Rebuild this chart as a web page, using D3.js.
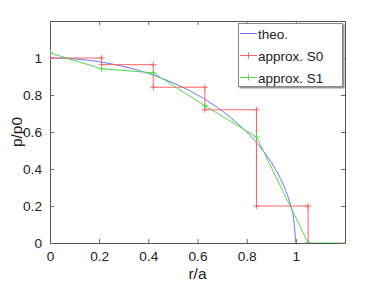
<!DOCTYPE html>
<html>
<head>
<meta charset="utf-8">
<script src="https://cdn.jsdelivr.net/npm/d3@7"></script>
<style>
  body { margin: 0; background: #fff; }
  text { font-family: "Liberation Sans", Arial, sans-serif; fill: #222; }
</style>
</head>
<body>
<script>
"use strict"

// theoretical curve
const theoR = [0, 0.1, 0.2, 0.3, 0.4, 0.5, 0.6, 0.7, 0.75, 0.8, 0.85, 0.9, 0.93, 0.96, 0.98, 0.99, 1];
const theoP = [1, 0.995, 0.98, 0.954, 0.917, 0.866, 0.8, 0.714, 0.661, 0.6, 0.527, 0.436, 0.368, 0.28, 0.199, 0.141, 0];

// step approximation S0
const s0R = [0, 0.21, 0.21, 0.42, 0.42, 0.63, 0.63, 0.84, 0.84, 1.05, 1.05];
const s0P = [1, 1, 0.964, 0.964, 0.842, 0.842, 0.72, 0.72, 0.2, 0.2, 0];

// linear approximation S1
const s1R = [0, 0.21, 0.42, 0.63, 0.84, 1.05, 1.3];
const s1P = [1.027, 0.942, 0.92, 0.742, 0.573, 0, 0];

const xTicks = [0, 0.2, 0.4, 0.6, 0.8, 1];
const yTicks = [0, 0.2, 0.4, 0.6, 0.8, 1];
const legendNames = ['theo.', 'approx. S0', 'approx. S1'];

const w = 382, h = 286;
const margin = {top: 21, right: 37, bottom: 43, left: 50};
const colors = ['#6f6fff', '#ff6464', '#4fdc4f'];
const tickFs = '13.7px';
const labelFs = '15.5px';

const svg = d3.select('body').append('svg')
  .attr('width', w)
  .attr('height', h);

const xScale = d3.scaleLinear().domain([0, 1.2]).range([margin.left, w - margin.right]);
const yScale = d3.scaleLinear().domain([0, 1.2]).range([h - margin.bottom, margin.top]);

svg.append('clipPath').attr('id', 'clip')
  .append('rect')
  .attr('x', margin.left).attr('y', margin.top)
  .attr('width', w - margin.left - margin.right)
  .attr('height', h - margin.top - margin.bottom);

// axes with inward ticks on all sides
const tickLen = 4;
const axisB = svg.append('g').attr('transform', 'translate(0,' + (h - margin.bottom) + ')')
  .call(d3.axisBottom(xScale).tickValues(xTicks).tickSizeInner(-tickLen).tickSizeOuter(0).tickPadding(8).tickFormat(d3.format('')));
const axisL = svg.append('g').attr('transform', 'translate(' + margin.left + ',0)')
  .call(d3.axisLeft(yScale).tickValues(yTicks).tickSizeInner(-tickLen).tickSizeOuter(0).tickPadding(8).tickFormat(d3.format('')));
const axisT = svg.append('g').attr('transform', 'translate(0,' + margin.top + ')')
  .call(d3.axisTop(xScale).tickValues(xTicks).tickSizeInner(-tickLen).tickSizeOuter(0).tickFormat(''));
const axisR = svg.append('g').attr('transform', 'translate(' + (w - margin.right) + ',0)')
  .call(d3.axisRight(yScale).tickValues(yTicks).tickSizeInner(-tickLen).tickSizeOuter(0).tickFormat(''));

[axisB, axisL, axisT, axisR].forEach(g => {
  g.attr('font-size', null).attr('font-family', null);
  g.select('.domain').attr('stroke', '#555');
  g.selectAll('.tick line').attr('stroke', '#666');
  g.selectAll('.tick text').style('font-size', tickFs).attr('fill', '#222');
});

svg.append('text')
  .attr('x', (margin.left + w - margin.right) / 2)
  .attr('y', 279)
  .attr('text-anchor', 'middle')
  .style('font-size', labelFs)
  .text('r/a');

svg.append('text')
  .attr('transform', 'translate(22,' + ((margin.top + h - margin.bottom) / 2) + ') rotate(-90)')
  .attr('text-anchor', 'middle')
  .style('font-size', labelFs)
  .text('p/p0');

const plot = svg.append('g').attr('clip-path', 'url(#clip)');

function toPts(rs, ps) {
  return rs.map((r, i) => [r, ps[i]]);
}

const theo = toPts(theoR, theoP);
const s0 = toPts(s0R, s0P);
const s1 = toPts(s1R, s1P);

const smooth = d3.line().x(d => xScale(d[0])).y(d => yScale(d[1])).curve(d3.curveMonotoneX);
const lin = d3.line().x(d => xScale(d[0])).y(d => yScale(d[1]));

plot.append('path').datum(theo)
  .attr('d', smooth)
  .attr('fill', 'none').attr('stroke', colors[0]).attr('stroke-width', 1);

[s0, s1].forEach((pts, k) => {
  plot.append('path').datum(pts)
    .attr('d', lin)
    .attr('fill', 'none').attr('stroke', colors[k + 1]).attr('stroke-width', 1);
  // '+' markers
  plot.selectAll(null)
    .data(pts)
    .enter()
    .append('path')
    .attr('d', d => {
      const x = xScale(d[0]), y = yScale(d[1]);
      return 'M' + (x - 3) + ',' + y + 'H' + (x + 3) + 'M' + x + ',' + (y - 3) + 'V' + (y + 3);
    })
    .attr('stroke', colors[k + 1]).attr('stroke-width', 1);
});

// legend
const lg = svg.append('g').attr('transform', 'translate(238,23)');
lg.append('rect').attr('x', 1.5).attr('y', 1.5).attr('width', 105).attr('height', 64).attr('fill', '#999');
lg.append('rect').attr('x', 0.5).attr('y', 0.5).attr('width', 104).attr('height', 63)
  .attr('fill', '#fff').attr('stroke', '#888');

legendNames.forEach((name, i) => {
  const yy = 10.5 + i * 22;
  lg.append('line').attr('x1', 2).attr('x2', 19).attr('y1', yy).attr('y2', yy)
    .attr('stroke', colors[i]);
  if (i > 0) {
    lg.append('line').attr('x1', 10.5).attr('x2', 10.5).attr('y1', yy - 3).attr('y2', yy + 3)
      .attr('stroke', colors[i]);
  }
  lg.append('text').attr('x', 20).attr('y', yy + 5)
    .style('font-size', '13.5px')
    .text(name);
});
</script>
</body>
</html>
